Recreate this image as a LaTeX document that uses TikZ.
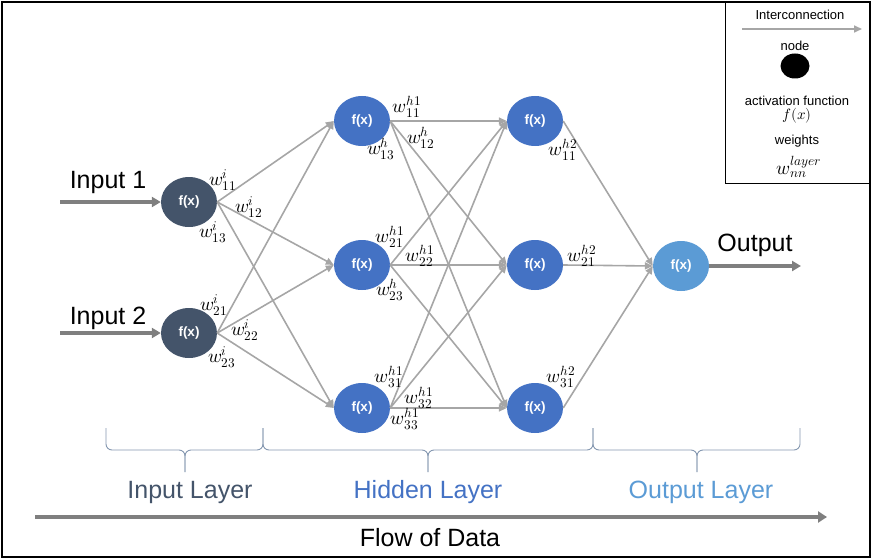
\documentclass[tikz,border=0pt]{standalone}
\usepackage{amsmath}
\usepackage{fontspec}
\usepackage{unicode-math}
\setmainfont{Liberation Sans}
\setmathfont{Latin Modern Math}
\usetikzlibrary{shapes.geometric,arrows.meta}
\definecolor{cin}{HTML}{44546A}
\definecolor{chid}{HTML}{4472C4}
\definecolor{cout}{HTML}{5B9BD5}
\definecolor{conn}{HTML}{A6A6A6}
\definecolor{thick}{HTML}{7F7F7F}
\definecolor{brace}{HTML}{8497B0}
\newcommand{\wgt}[2]{$w_{#1}^{#2}$}
\tikzset{
  neuron/.style={ellipse, draw=none, minimum width=56pt, minimum height=50pt, inner sep=0pt,
     text=white, font=\fontsize{13.5}{14}\selectfont\bfseries},
  innode/.style={neuron, fill=cin},
  hidnode/.style={neuron, fill=chid},
  outnode/.style={neuron, fill=cout},
  link/.style={draw=conn, line width=1.6pt, -{Triangle[length=8pt,width=7pt]}},
  bigarrow/.style={draw=thick, line width=3.5pt, -{Triangle[length=9pt,width=10pt]}},
  wlab/.style={inner sep=0pt, font=\fontsize{19}{20}\selectfont},
  biglab/.style={font=\fontsize{25}{28}\selectfont},
  leg/.style={font=\fontsize{13}{14}\selectfont},
  brc/.style={draw=brace, line width=0.9pt, rounded corners=6pt}
}
\begin{document}
\begin{tikzpicture}[x=1pt,y=-1pt]
\useasboundingbox (0,0) rectangle (872,559);
\draw[black, line width=1.5pt] (2,2) rectangle (870,557);
% legend
\draw[black, line width=1pt] (725,2) rectangle (870,183);
\node[leg] (lint) at (800,15) {Interconnection};
\coordinate (la) at (742,29);
\coordinate (lb) at (862,29);
\draw[draw=conn, line width=1.6pt, -{Triangle[length=8pt,width=7pt]}] (la) -- (lb);
\node[leg] (lnode) at (795,46) {node};
\node[ellipse, fill=black, minimum width=29pt, minimum height=25pt, inner sep=0pt] (lell) at (795,66) {};
\node[leg] (lact) at (797,101) {activation function};
\node[inner sep=0pt, font=\fontsize{15}{16}\selectfont] (lf) at (797,116) {$f(x)$};
\node[leg] (lw) at (797,141) {weights};
\node[inner sep=0pt, font=\fontsize{19}{20}\selectfont] (lwl) at (799,167) {\wgt{nn}{layer}};

% nodes
\node[innode] (i1) at (189,202) {f(x)};
\node[innode] (i2) at (189,333) {f(x)};
\node[hidnode] (a1) at (362,121) {f(x)};
\node[hidnode] (a2) at (362,265) {f(x)};
\node[hidnode] (a3) at (362,408) {f(x)};
\node[hidnode] (b1) at (535,121) {f(x)};
\node[hidnode] (b2) at (535,265) {f(x)};
\node[hidnode] (b3) at (535,408) {f(x)};
\node[outnode] (o) at (681,266) {f(x)};

% connections
\foreach \s in {i1,i2}{\foreach \t in {a1,a2,a3}{\draw[link] (\s.east) -- (\t.west);}}
\foreach \s in {a1,a2,a3}{\foreach \t in {b1,b2,b3}{\draw[link] (\s.east) -- (\t.west);}}
\foreach \s in {b1,b2,b3}{\draw[link] (\s.east) -- (o.west);}

% input/output arrows
\coordinate (in1) at (60,202);
\coordinate (in2) at (60,333);
\coordinate (outend) at (801,266);
\draw[bigarrow] (in1) -- (i1.west);
\draw[bigarrow] (in2) -- (i2.west);
\draw[bigarrow] (o.east) -- (outend);
\node[biglab] (tin1) at (108,182) {Input 1};
\node[biglab] (tin2) at (108,318) {Input 2};
\node[biglab] (tout) at (755,245) {Output};

% weights
\node[wlab] at (223,180) {\wgt{11}{i}};
\node[wlab] at (249,207) {\wgt{12}{i}};
\node[wlab] at (213,232) {\wgt{13}{i}};
\node[wlab] at (214,305) {\wgt{21}{i}};
\node[wlab] at (245,330) {\wgt{22}{i}};
\node[wlab] at (222,357) {\wgt{23}{i}};
\node[wlab] at (407,107) {\wgt{11}{h1}};
\node[wlab] at (421,138) {\wgt{12}{h}};
\node[wlab] at (381,149) {\wgt{13}{h}};
\node[wlab] at (390,237) {\wgt{21}{h1}};
\node[wlab] at (420,256) {\wgt{22}{h1}};
\node[wlab] at (390,290) {\wgt{23}{h}};
\node[wlab] at (389,377) {\wgt{31}{h1}};
\node[wlab] at (419,398) {\wgt{32}{h1}};
\node[wlab] at (405,419) {\wgt{33}{h1}};
\node[wlab] at (563,150) {\wgt{11}{h2}};
\node[wlab] at (582,256) {\wgt{21}{h2}};
\node[wlab] at (561,377) {\wgt{31}{h2}};

% braces
\coordinate (bA) at (106,428);
\coordinate (bB) at (263,428);
\coordinate (bC) at (593,428);
\coordinate (bD) at (800,428);
\coordinate (mA) at (185,472);
\coordinate (mB) at (428,472);
\coordinate (mC) at (697,472);
\draw[brc] (bA) -- (106,450) -- (185,450) -- (mA);
\draw[brc] (bB) -- (263,450) -- (185,450) -- (mA);
\draw[brc] (bB) -- (263,450) -- (428,450) -- (mB);
\draw[brc] (bC) -- (593,450) -- (428,450) -- (mB);
\draw[brc] (bC) -- (593,450) -- (697,450) -- (mC);
\draw[brc] (bD) -- (800,450) -- (697,450) -- (mC);
\node[biglab, text=cin] (lin) at (190,492) {Input Layer};
\node[biglab, text=chid] (lhid) at (428,492) {Hidden Layer};
\node[biglab, text=cout] (lout) at (701,492) {Output Layer};

% flow
\coordinate (fa) at (35,517);
\coordinate (fb) at (827,517);
\draw[draw=thick, line width=4pt, -{Triangle[length=9pt,width=11pt]}] (fa) -- (fb);
\node[biglab] (flow) at (430,538) {Flow of Data};
\end{tikzpicture}
\end{document}
